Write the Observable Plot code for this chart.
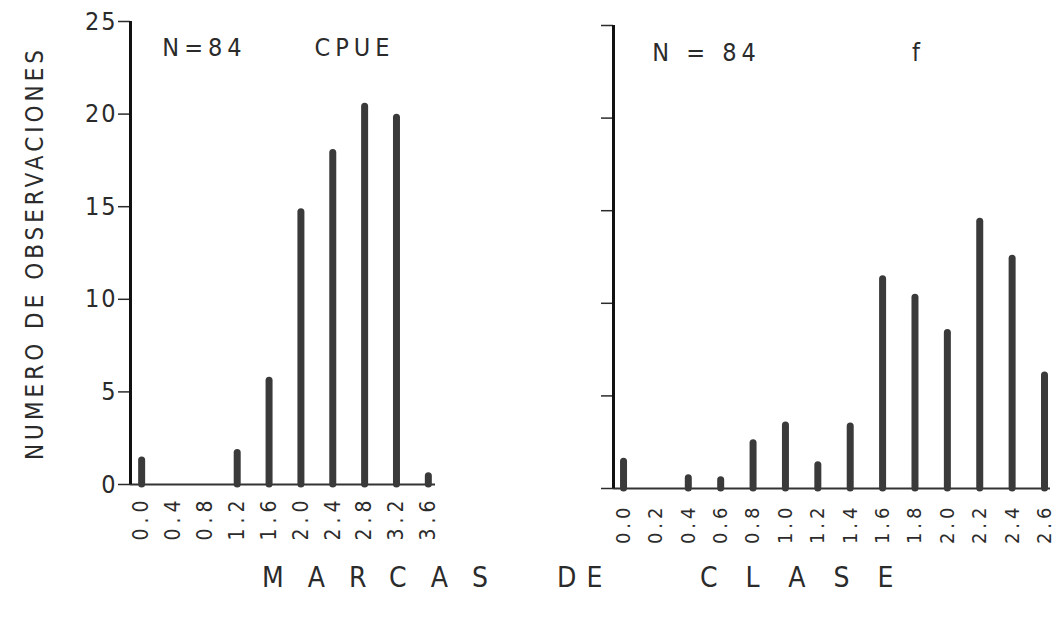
<!DOCTYPE html>
<html><head><meta charset="utf-8">
<script src="https://cdn.jsdelivr.net/npm/d3@7"></script>
<script src="https://cdn.jsdelivr.net/npm/@observablehq/plot@0.6"></script>
<style>
html,body{margin:0;padding:0;background:#fff;}
body{width:1055px;height:618px;position:relative;overflow:hidden;font-family:"DejaVu Sans Condensed","DejaVu Sans",sans-serif;color:#2b2b2b;}
#left{position:absolute;left:0;top:0;}
#right{position:absolute;left:590px;top:0;}
.xt{position:absolute;top:561px;font-size:28px;line-height:34px;white-space:pre;color:#2b2b2b;}
#left g[aria-label="x-axis tick label"] text{font-size:21px !important;letter-spacing:5px !important;}
#right g[aria-label="x-axis tick label"] text{font-size:20px !important;letter-spacing:4px !important;}
#left g[aria-label="y-axis tick label"] text{font-size:25px !important;letter-spacing:2px !important;}
.note text{letter-spacing:5px;}
.ytitle text{letter-spacing:4px;}
</style></head><body>
<div id="left"></div>
<div id="right"></div>
<div id="xtitle"></div>
<script>
// ---- data ----
const cpueMarks  = ["0.0","0.4","0.8","1.2","1.6","2.0","2.4","2.8","3.2","3.6"];
const cpueCounts = [1.3, 0, 0, 1.7, 5.6, 14.7, 17.9, 20.4, 19.8, 0.45];
const fMarks  = ["0.0","0.2","0.4","0.6","0.8","1.0","1.2","1.4","1.6","1.8","2.0","2.2","2.4","2.6"];
const fCounts = [1.45, 0, 0.55, 0.45, 2.45, 3.4, 1.25, 3.35, 11.3, 10.3, 8.4, 14.4, 12.4, 6.1];
const yTicks = [0, 5, 10, 15, 20, 25];
const yTitle = "NUMERO DE OBSERVACIONES";
const cpueNote = "N=84", cpueTitle = "CPUE";
const fNote = "N = 84", fTitle = "f";
const xTitleParts = ["MARCAS", "DE", "CLASE"];

const ink = "#2b2b2b", barInk = "#3a3a3a";
const cpue = cpueMarks.map((m, i) => ({mark: +m, count: cpueCounts[i]}));
const fdat = fMarks.map((m, i) => ({mark: +m, count: fCounts[i]}));
const cpueDomain = [-0.14, 3.69];
const fDomain = [-0.062, 2.637];
const font = '"DejaVu Sans Condensed", "DejaVu Sans", sans-serif';

const left = Plot.plot({
  width: 450, height: 545,
  marginLeft: 130, marginRight: 15, marginTop: 21, marginBottom: 61,
  style: {fontFamily: font, color: ink, background: "transparent"},
  x: {domain: cpueDomain, axis: null},
  y: {domain: [0, 25], axis: null},
  marks: [
    Plot.ruleY([0], {stroke: "#333", strokeWidth: 2}),
    Plot.ruleX(cpue, {filter: d => d.count > 0, x: "mark", y1: 0, y2: "count", stroke: barInk, strokeWidth: 7, strokeLinecap: "round"}),
    Plot.axisY({ticks: yTicks, label: null, tickSize: 12, tickPadding: 1, stroke: ink, strokeWidth: 1.5}),
    Plot.axisX({ticks: cpueMarks.map(Number), label: null, tickFormat: d => d.toFixed(1), tickRotate: -90, tickSize: 0, tickPadding: 11}),
    Plot.ruleX([cpueDomain[0]], {y1: 0, y2: 25, stroke: "#111", strokeWidth: 3}),
    Plot.text([yTitle], {text: d => d, frameAnchor: "left", textAnchor: "middle", lineAnchor: "middle", dx: -95, rotate: -90, fontSize: 24, className: "ytitle"}),
    Plot.text([cpueNote], {text: d => d, frameAnchor: "top-left", textAnchor: "middle", lineAnchor: "middle", dx: 74, dy: 26, fontSize: 25, className: "note"}),
    Plot.text([cpueTitle], {text: d => d, frameAnchor: "top-left", textAnchor: "middle", lineAnchor: "middle", dx: 224, dy: 26, fontSize: 25, className: "note"})
  ]
});
document.getElementById("left").append(left);

const right = Plot.plot({
  width: 465, height: 545,
  marginLeft: 23, marginRight: 5, marginTop: 25, marginBottom: 57,
  style: {fontFamily: font, color: ink, background: "transparent"},
  x: {domain: fDomain, axis: null},
  y: {domain: [0, 25], axis: null},
  marks: [
    Plot.ruleY([0], {stroke: "#333", strokeWidth: 2}),
    Plot.ruleX(fdat, {filter: d => d.count > 0, x: "mark", y1: 0, y2: "count", stroke: barInk, strokeWidth: 7, strokeLinecap: "round"}),
    Plot.axisY({ticks: yTicks, label: null, tickSize: 12, tickFormat: () => "", stroke: ink, strokeWidth: 1.5}),
    Plot.axisX({ticks: fMarks.map(Number), label: null, tickFormat: d => d.toFixed(1), tickRotate: -90, tickSize: 0, tickPadding: 15}),
    Plot.ruleX([fDomain[0]], {y1: 0, y2: 25, stroke: "#111", strokeWidth: 3}),
    Plot.text([fNote], {text: d => d, frameAnchor: "top-left", textAnchor: "middle", lineAnchor: "middle", dx: 93, dy: 27, fontSize: 25, className: "note"}),
    Plot.text([fTitle], {text: d => d, frameAnchor: "top-left", textAnchor: "middle", lineAnchor: "middle", dx: 305, dy: 27, fontSize: 25, className: "note"})
  ]
});
document.getElementById("right").append(right);

// shared x-axis title under both panels
const xt = document.getElementById("xtitle");
const partPos = [{left: 262, ls: 24}, {left: 557, ls: 10}, {left: 700, ls: 28}];
xTitleParts.forEach((p, i) => {
  const s = document.createElement("div");
  s.className = "xt";
  s.style.left = partPos[i].left + "px";
  s.style.letterSpacing = partPos[i].ls + "px";
  s.textContent = p;
  xt.append(s);
});
</script>
</body></html>
